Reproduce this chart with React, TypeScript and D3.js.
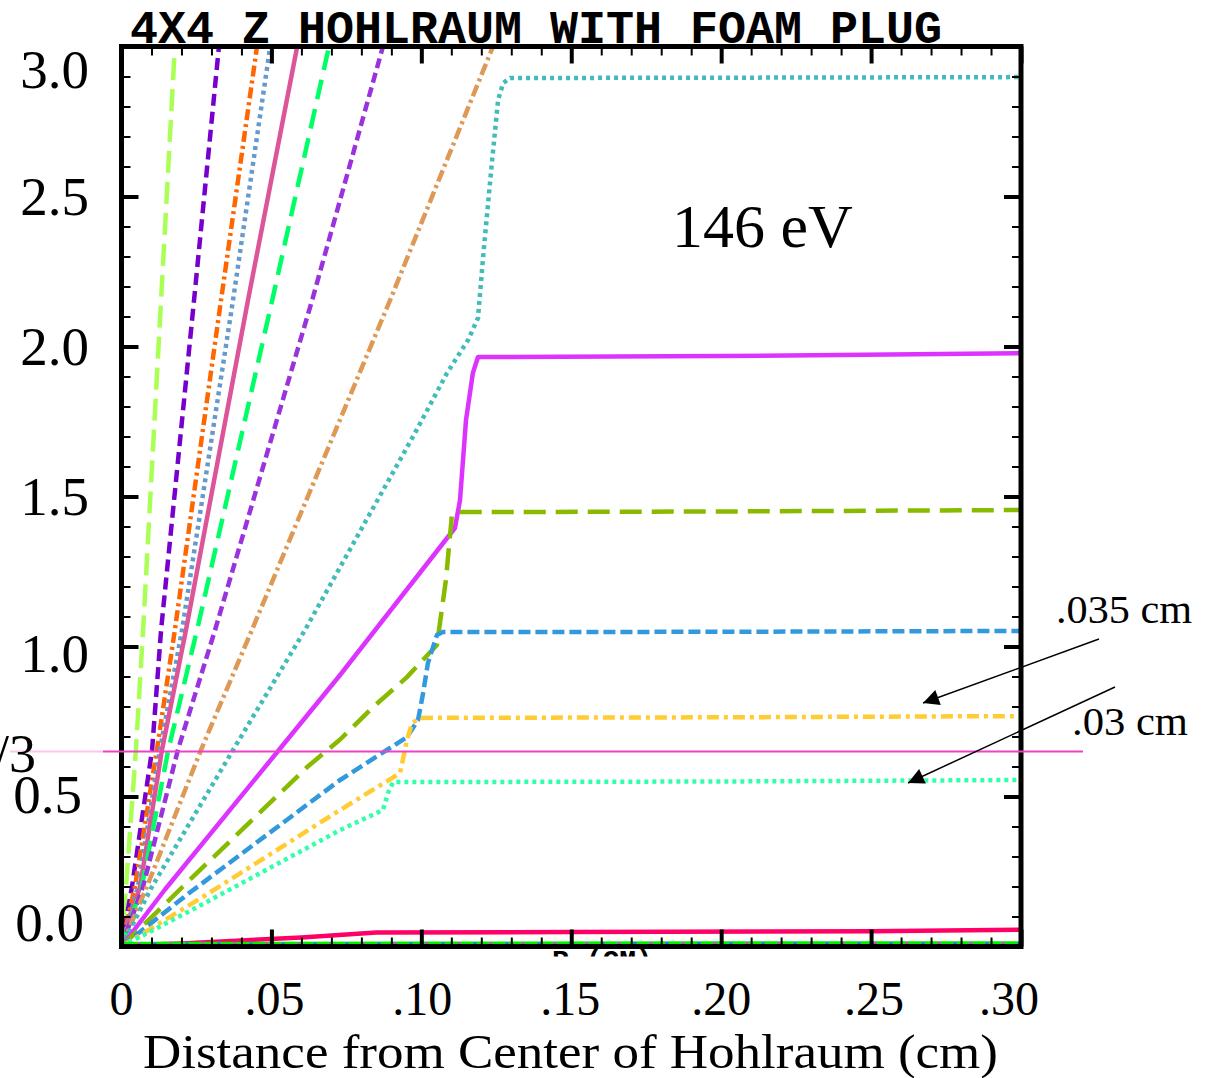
import React, { useEffect, useRef } from "react";
import * as d3 from "d3";

type Pt = [number, number];

const W = 1213;
const H = 1078;
const plot = { left: 121.5, right: 1021, top: 46.5, bottom: 946.5 };

// axis ticks + labels
const xTickValues = [0, 0.05, 0.1, 0.15, 0.2, 0.25, 0.3];
const xTickLabels = ["0", ".05", ".10", ".15", ".20", ".25", ".30"];
const yTickValues = [0, 0.5, 1, 1.5, 2, 2.5, 3];
const yTickLabels = ["0.0", "0.5", "1.0", "1.5", "2.0", "2.5", "3.0"];

const title = "4X4 Z HOHLRAUM WITH FOAM PLUG";

// steep early-time profiles (distance cm, value)
const lightGreenDash: Pt[] = [[0, 0], [0.0015, 0.2], [0.0048, 0.655], [0.0072, 1.055], [0.0132, 2.155], [0.0178, 3.0]];
const purpleDash: Pt[] = [[0, 0], [0.0035, 0.2], [0.0102, 0.655], [0.0132, 1.055], [0.0242, 2.155], [0.0325, 3.0]];
const orangeDashDot: Pt[] = [[0, 0], [0.0045, 0.2], [0.0118, 0.655], [0.0178, 1.055], [0.0332, 2.155], [0.0452, 3.0]];
const steelDot: Pt[] = [[0, 0], [0.0055, 0.2], [0.0128, 0.655], [0.0202, 1.055], [0.0372, 2.155], [0.0496, 3.0]];
const pinkSolid: Pt[] = [[0, 0], [0.0062, 0.2], [0.0135, 0.655], [0.0215, 1.055], [0.0422, 2.155], [0.0586, 3.0]];
const greenDash: Pt[] = [[0, 0], [0.0068, 0.2], [0.0156, 0.655], [0.0252, 1.055], [0.0499, 2.138], [0.0692, 3.0]];
const violetDash: Pt[] = [[0, 0], [0.0072, 0.2], [0.0188, 0.655], [0.0312, 1.055], [0.0636, 2.155], [0.0872, 3.0]];
const tanDashDot: Pt[] = [[0, 0], [0.0085, 0.2], [0.0265, 0.655], [0.0435, 1.055], [0.0896, 2.155], [0.1239, 3.0]];

// profiles that flatten out past the foam plug
const tealDot: Pt[] = [[0, 0], [0.0102, 0.2], [0.0372, 0.655], [0.0612, 1.055], [0.0979, 1.712], [0.1086, 1.912], [0.1156, 2.022], [0.1189, 2.095], [0.1206, 2.298], [0.1232, 2.578], [0.1256, 2.822], [0.1273, 2.878], [0.1296, 2.895], [0.2, 2.896], [0.3, 2.898]];
const magentaSolid: Pt[] = [[0, 0], [0.0145, 0.19], [0.0529, 0.66], [0.0729, 0.905], [0.1112, 1.395], [0.1129, 1.488], [0.1149, 1.755], [0.1172, 1.912], [0.1189, 1.965], [0.2, 1.968], [0.3, 1.978]];
const oliveDash: Pt[] = [[0, 0], [0.0205, 0.2], [0.0619, 0.598], [0.0729, 0.69], [0.0839, 0.798], [0.0952, 0.898], [0.1052, 1.005], [0.1082, 1.222], [0.1102, 1.438], [0.1119, 1.448], [0.2, 1.45], [0.3, 1.455]];
const blueDash: Pt[] = [[0, 0], [0.0228, 0.18], [0.0729, 0.555], [0.0952, 0.698], [0.0989, 0.755], [0.1006, 0.845], [0.1022, 0.945], [0.1052, 1.038], [0.1072, 1.048], [0.2, 1.049], [0.3, 1.052]];
const yellowDashDot: Pt[] = [[0, 0], [0.0279, 0.17], [0.0729, 0.455], [0.0929, 0.578], [0.0952, 0.688], [0.0969, 0.745], [0.0996, 0.762], [0.2, 0.764], [0.3, 0.768]];
const aquaDot: Pt[] = [[0, 0], [0.025, 0.13], [0.0729, 0.388], [0.0872, 0.455], [0.0889, 0.512], [0.0906, 0.548], [0.2, 0.55], [0.3, 0.555]];

// near-zero profiles along the bottom
const redSolid: Pt[] = [[0, 0.004], [0.02, 0.01], [0.04, 0.02], [0.06, 0.03], [0.075, 0.04], [0.085, 0.047], [0.15, 0.048], [0.25, 0.051], [0.3, 0.056]];
const greenFloor: Pt[] = [[0, 0.008], [0.1, 0.009], [0.2, 0.01], [0.3, 0.01]];

const curves = [
  { data: lightGreenDash, color: "#aaff55", dash: "22,9" },
  { data: purpleDash, color: "#7700cc", dash: "12,6" },
  { data: orangeDashDot, color: "#ff6600", dash: "11,4,3,4" },
  { data: steelDot, color: "#6699cc", dash: "4,4" },
  { data: pinkSolid, color: "#dd5599", dash: null },
  { data: greenDash, color: "#00ff66", dash: "20,10" },
  { data: violetDash, color: "#9933dd", dash: "10,5" },
  { data: tanDashDot, color: "#dd9955", dash: "12,4,3,4" },
  { data: tealDot, color: "#44bbbb", dash: "4,4" },
  { data: magentaSolid, color: "#dd33ff", dash: null },
  { data: oliveDash, color: "#88bb00", dash: "22,10" },
  { data: blueDash, color: "#3399dd", dash: "12,5" },
  { data: yellowDashDot, color: "#ffcc33", dash: "12,5,4,5" },
  { data: aquaDot, color: "#33ffaa", dash: "4,4" },
  { data: redSolid, color: "#ff0066", dash: null },
  { data: greenFloor, color: "#00ee00", dash: null },
];

const x = d3.scaleLinear().domain([0, 0.3]).range([plot.left, plot.right]);
const y = d3.scaleLinear().domain([0, 3]).range([plot.bottom, plot.top]);

const line = d3
  .line<Pt>()
  .x((d) => x(d[0]))
  .y((d) => y(d[1]));

// the slide overlay labels sit a bit off the plot's own ticks
const yLabelNudge = [-6, 16, 25, 18, 18, 18, 41];
const yLabelRight = [84, 82, 89, 89, 89, 89, 89];
const xLabelNudge = [0, 3, 1, -1, 0, 3, -12];

const guideValue = 0.65;

export default function App() {
  const axesRef = useRef<SVGGElement>(null);

  useEffect(() => {
    const g = d3.select(axesRef.current);
    g.selectAll("*").remove();

    const minorX = d3.range(0, 31).map((i) => i / 100);
    const minorY = d3.range(0, 31).map((i) => i / 10);

    const addAxis = (axis: any, transform: string, width: number) => {
      g.append("g")
        .attr("transform", transform)
        .call(axis)
        .call((s: any) => {
          s.select(".domain").remove();
          s.selectAll("text").remove();
          s.selectAll("line").attr("stroke", "#000").attr("stroke-width", width);
        });
    };

    // ticks point inward on all four sides
    addAxis(d3.axisTop(x).tickValues(minorX).tickSize(-9), `translate(0,${plot.top})`, 2);
    addAxis(d3.axisTop(x).tickValues(xTickValues).tickSize(-17), `translate(0,${plot.top})`, 4);
    addAxis(d3.axisBottom(x).tickValues(minorX).tickSize(-9), `translate(0,${plot.bottom})`, 2);
    addAxis(d3.axisBottom(x).tickValues(xTickValues).tickSize(-17), `translate(0,${plot.bottom})`, 4);
    addAxis(d3.axisLeft(y).tickValues(minorY).tickSize(-9), `translate(${plot.left},0)`, 2);
    addAxis(d3.axisLeft(y).tickValues(yTickValues).tickSize(-17), `translate(${plot.left},0)`, 4);
    addAxis(d3.axisRight(y).tickValues(minorY).tickSize(-9), `translate(${plot.right},0)`, 2);
    addAxis(d3.axisRight(y).tickValues(yTickValues).tickSize(-17), `translate(${plot.right},0)`, 4);
  }, []);

  const serif = "'Liberation Serif', 'Times New Roman', serif";

  return (
    <svg
      width={W}
      height={H}
      style={{ position: "absolute", left: 0, top: 0, background: "#fff" }}
    >
      <defs>
        <clipPath id="plotClip">
          <rect x={plot.left} y={plot.top} width={plot.right - plot.left} height={plot.bottom - plot.top} />
        </clipPath>
        <clipPath id="rClip">
          <rect x={540} y={plot.bottom} width={140} height={10} />
        </clipPath>
        <marker id="arrowHead" viewBox="0 0 10 10" refX="10" refY="5" markerWidth="24" markerHeight="16" markerUnits="userSpaceOnUse" orient="auto">
          <path d="M0,0 L10,5 L0,10 z" fill="#000" />
        </marker>
      </defs>

      <rect width={W} height={H} fill="#fff" />

      {/* title */}
      <text
        x={130}
        y={43}
        fontFamily="'Liberation Mono', 'DejaVu Sans Mono', monospace"
        fontWeight="bold"
        fontSize={46}
        textLength={812}
        lengthAdjust="spacingAndGlyphs"
      >
        {title}
      </text>

      <g clipPath="url(#plotClip)">
        {curves.map((c, i) => (
          <path
            key={i}
            d={line(c.data) ?? ""}
            fill="none"
            stroke={c.color}
            strokeWidth={4.5}
            strokeDasharray={c.dash ?? undefined}
            strokeLinejoin="round"
          />
        ))}
        {/* overlapping floor profiles showing through the green one */}
        <path d={line(greenFloor) ?? ""} fill="none" stroke="#3366ff" strokeWidth={3} strokeDasharray="3,29" />
        <path d={line(greenFloor) ?? ""} fill="none" stroke="#cc44cc" strokeWidth={3} strokeDasharray="3,29" strokeDashoffset={-16} />
      </g>

      {/* partially hidden axis caption */}
      <text
        x={552}
        y={969}
        clipPath="url(#rClip)"
        fontFamily="'Liberation Mono', monospace"
        fontWeight="bold"
        fontSize={28}
      >
        R (CM)
      </text>

      <rect
        x={plot.left}
        y={plot.top}
        width={plot.right - plot.left}
        height={plot.bottom - plot.top}
        fill="none"
        stroke="#000"
        strokeWidth={5}
      />
      <g ref={axesRef} />

      {/* reference guide line */}
      <line x1={10} x2={103} y1={y(guideValue)} y2={y(guideValue)} stroke="#ffc4ea" strokeWidth={2} />
      <line x1={103} x2={1083} y1={y(guideValue)} y2={y(guideValue)} stroke="#f040c8" strokeWidth={2} />
      <text x={36} y={772} textAnchor="end" fontFamily={serif} fontSize={54}>
        2/3
      </text>

      {/* y tick labels */}
      {yTickValues.map((v, i) => (
        <text
          key={v}
          x={yLabelRight[i]}
          y={y(v) + yLabelNudge[i]}
          textAnchor="end"
          fontFamily={serif}
          fontSize={55}
        >
          {yTickLabels[i]}
        </text>
      ))}

      {/* x tick labels */}
      {xTickValues.map((v, i) => (
        <text
          key={v}
          x={x(v) + xLabelNudge[i]}
          y={1015}
          textAnchor="middle"
          fontFamily={serif}
          fontSize={48}
        >
          {xTickLabels[i]}
        </text>
      ))}

      <text
        x={143}
        y={1068}
        fontFamily={serif}
        fontSize={48}
        textLength={855}
        lengthAdjust="spacingAndGlyphs"
      >
        Distance from Center of Hohlraum (cm)
      </text>

      <text x={672} y={247} fontFamily={serif} fontSize={62}>
        146 eV
      </text>

      {/* annotations */}
      <text x={1056} y={623} fontFamily={serif} fontSize={40} textLength={136} lengthAdjust="spacingAndGlyphs">
        .035 cm
      </text>
      <text x={1072} y={735} fontFamily={serif} fontSize={40} textLength={116} lengthAdjust="spacingAndGlyphs">
        .03 cm
      </text>
      <line x1={1099} y1={639} x2={923} y2={703} stroke="#000" strokeWidth={1.5} markerEnd="url(#arrowHead)" />
      <line x1={1115} y1={687} x2={908} y2={783} stroke="#000" strokeWidth={1.5} markerEnd="url(#arrowHead)" />
    </svg>
  );
}
